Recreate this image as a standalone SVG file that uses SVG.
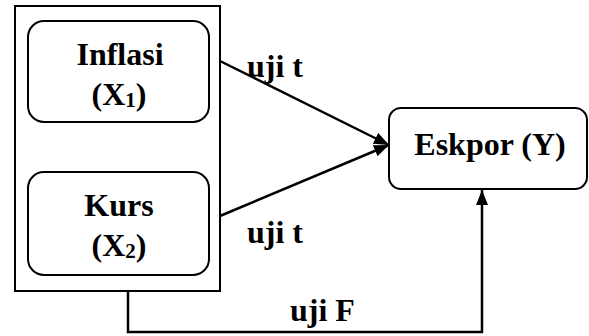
<svg xmlns="http://www.w3.org/2000/svg" width="589" height="336" viewBox="0 0 589 336">
<defs>
<style>
text{font-family:'Liberation Serif','Times New Roman',Times,serif;font-weight:700;font-size:32px;fill:#000}
.box{fill:#fff;stroke:#000;stroke-width:2}
.ln{fill:none;stroke:#000;stroke-width:2.5}
</style>
<marker id="ah" markerUnits="userSpaceOnUse" markerWidth="16" markerHeight="14" refX="15" refY="6" orient="auto">
<path d="M0,0 L15,6 L0,12 Z" fill="#000"/>
</marker>
</defs>
<rect x="0" y="0" width="589" height="336" fill="#fff"/>
<g id="group-x">
<rect class="box" x="15" y="6" width="205" height="285"/>
</g>
<g id="inflasi">
<rect class="box" x="28" y="21" width="181" height="101" rx="16"/>
<text x="120" y="65" text-anchor="middle">Inflasi</text>
<text x="119" y="105" text-anchor="middle">(X<tspan font-size="21" dy="2">1</tspan><tspan dy="-2">)</tspan></text>
</g>
<g id="kurs">
<rect class="box" x="28" y="172" width="181" height="103" rx="16"/>
<text x="119" y="216" text-anchor="middle">Kurs</text>
<text x="119" y="256" text-anchor="middle">(X<tspan font-size="21" dy="2">2</tspan><tspan dy="-2">)</tspan></text>
</g>
<g id="ekspor">
<rect class="box" x="389" y="108" width="198" height="81" rx="12"/>
<text x="490" y="155" text-anchor="middle">Eskpor (Y)</text>
</g>
<g id="connectors">
<line class="ln" x1="220" y1="61" x2="389" y2="145" marker-end="url(#ah)"/>
<line class="ln" x1="220" y1="216" x2="389" y2="145" marker-end="url(#ah)"/>
<polyline class="ln" points="128,291 128,332 482,332 482,190" marker-end="url(#ah)"/>
<text x="247" y="77">uji t</text>
<text x="247" y="243">uji t</text>
<text x="290" y="321">uji F</text>
</g>
</svg>
